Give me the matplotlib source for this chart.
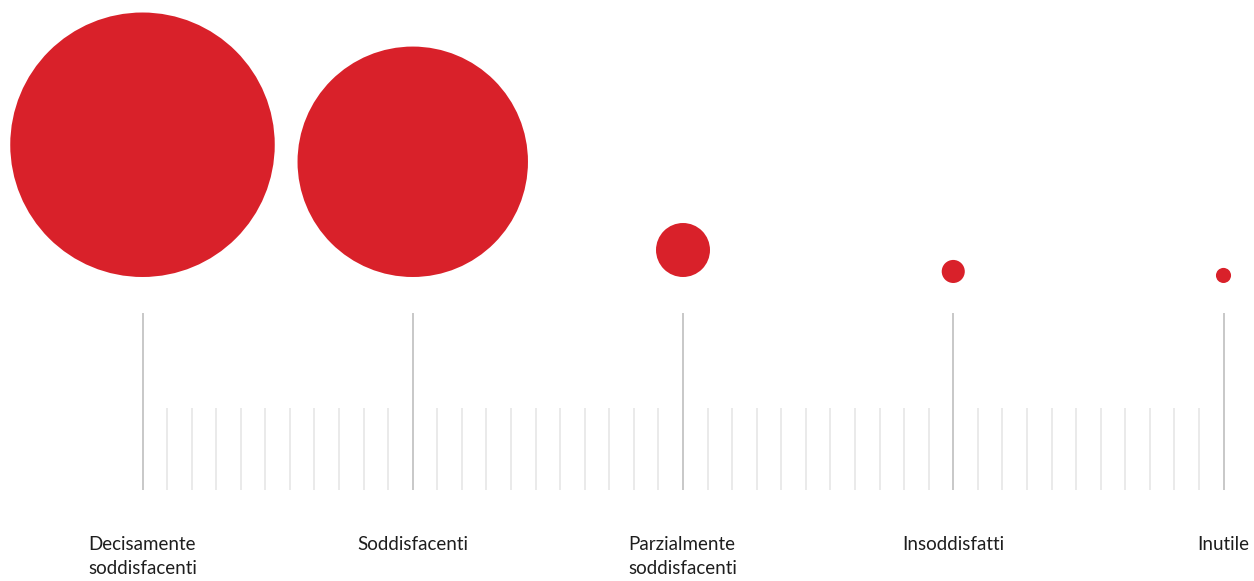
import numpy as np
import matplotlib.pyplot as plt
from matplotlib.patches import Circle

labels = ["Decisamente\nsoddisfacenti", "Soddisfacenti", "Parzialmente\nsoddisfacenti",
          "Insoddisfatti", "Inutile"]
values = [55.2, 41.9, 2.3, 0.42, 0.18]   # share of answers (%)

red = "#d9212a"
W, H = 1254, 581
px = 270.25          # pixels per category step
x0 = 142.5           # pixel x of first category


def y(p):
    # pixel row from top -> data units
    return (H - p) / px


fig = plt.figure(figsize=(W / 100, H / 100), dpi=100)
ax = fig.add_axes([0, 0, 1, 1])
ax.set_xlim(-x0 / px, (W - x0) / px)
ax.set_ylim(0, H / px)
ax.axis("off")

# bubbles, area proportional to value, sitting on a common baseline
k = 17.8 / px
drop = [0, 0, 0, 6, 6]
for i, v in enumerate(values):
    r = k * np.sqrt(v)
    ax.add_patch(Circle((i, y(277 + drop[i]) + r), r, color=red, lw=0))

# ruler
n = len(labels)
for i in range(n):
    ax.plot([i, i], [y(313), y(490)], color="#c4c4c4", lw=1.3, solid_capstyle="butt")
minor = np.arange(0, n - 1 + 1e-9, 1 / 11)
for m in minor:
    if abs(m - round(m)) > 1e-6:
        ax.plot([m, m], [y(408), y(490)], color="#e6e6e6", lw=1.2, solid_capstyle="butt")

for i, lab in enumerate(labels):
    ax.text(i, y(536), lab, ha="center", va="top", multialignment="left",
            fontsize=13.5, family="Lato", color="#1e1e1e", linespacing=1.5)

fig.savefig("out.png", dpi=100)
